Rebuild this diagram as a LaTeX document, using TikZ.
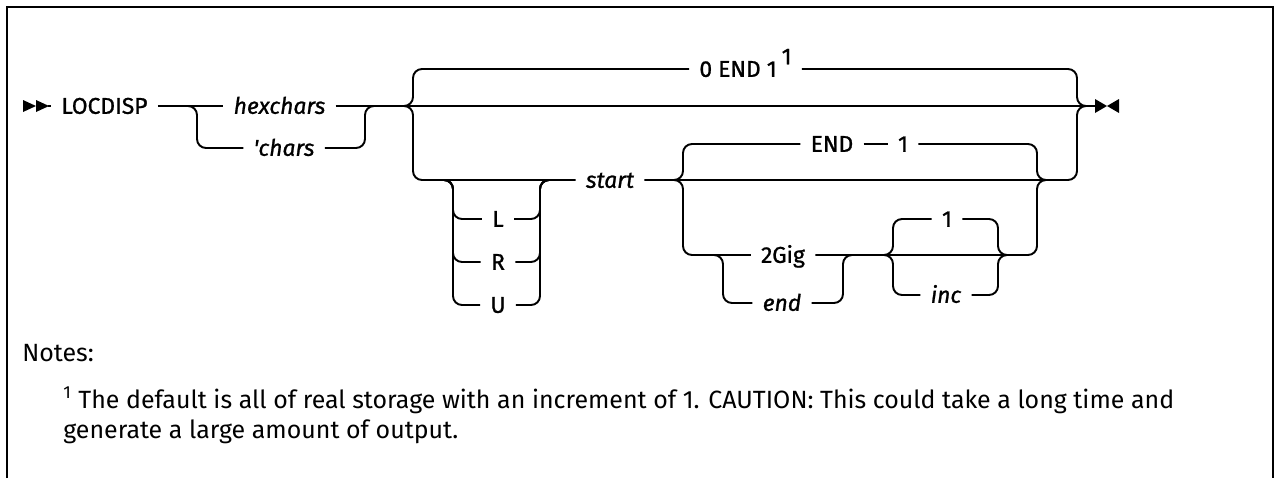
\documentclass[tikz,border=0pt]{standalone}
\usepackage{fontspec}
\setmainfont{Fira Sans}
\newfontfamily\railfont{Fira Sans}[FakeBold=1]
\usetikzlibrary{positioning}

\begin{document}
\begin{tikzpicture}[
    x=0.02cm, y=-0.02cm,
    rail/.style={line width=1.1pt, rounded corners=0.18cm},
    word/.style={inner xsep=0.2cm, inner ysep=0pt, text height=8.9pt, text depth=0pt},
    kw/.style={word, font=\railfont\fontsize{13}{15}\selectfont},
    var/.style={word, font=\railfont\fontsize{13}{15}\selectfont\itshape},
    note/.style={anchor=base west, inner sep=0pt, font=\fontsize{14.2}{17}\selectfont},
]
\useasboundingbox (0,0) rectangle (1274,478);
% frame, open at the bottom
\draw[line width=1.2pt] (7,478) -- (7,7) -- (1273,7) -- (1273,478);

% start of the statement
\fill (23,100) -- (36,106) -- (23,112) -- cycle;
\fill (36,100) -- (49,106) -- (36,112) -- cycle;
\coordinate (head) at (48,106);
\node[kw] (cmd) at (104.5,106) {LOCDISP};
\draw[rail] (head) -- (cmd);

% hexchars or 'chars
\node[var] (hex) at (279.5,106) {hexchars};
\node[var] (chr) at (284,148) {\textquotesingle chars};
\draw[rail] (cmd) -- (hex);
\draw[rail] (185,106) -- (197,106) -- (197,148) -- (chr.west);
\draw[rail] (chr.east) -- (365,148) -- (365,106) -- (377,106);

% main line and end of the statement
\coordinate (tail) at (1096,106);
\draw[rail] (hex) -- (tail);
\fill (1095,99) -- (1107,106) -- (1095,113) -- cycle;
\fill (1119,99) -- (1107,106) -- (1119,113) -- cycle;

% default above the main line
\node[kw] (dflt) at (745.5,69) {0 END 1\hspace{0.1cm}\raisebox{0.55em}{1}};
\draw[rail] (400,106) -- (413,106) -- (413,69) -- (dflt.west);
\draw[rail] (dflt.east) -- (1077,69) -- (1077,106) -- (1090,106);

% range below the main line
\node[var] (start) at (610,180) {start};
\draw[rail] (400,106) -- (413,106) -- (413,180) -- (start.west);
\foreach \k/\y in {L/219,R/262,U/305} {
  \node[kw] (opt\k) at (498,\y) {\k};
  \draw[rail] (440,180) -- (453,180) -- (453,\y) -- (opt\k.west);
  \draw[rail] (opt\k.east) -- (540,\y) -- (540,180) -- (553,180);
}
\draw[rail] (start.east) -- (1077,180) -- (1077,106) -- (1090,106);

% END 1 default after start
\node[kw] (upto) at (832,144) {END};
\node[kw] (by) at (903,144) {1};
\draw[rail] (670,180) -- (683,180) -- (683,144) -- (upto.west);
\draw[rail] (upto) -- (by);
\draw[rail] (by.east) -- (1037,144) -- (1037,180) -- (1050,180);

% 2Gig or end, then increment
\node[kw] (gig) at (783,255) {2Gig};
\node[var] (last) at (782,303) {end};
\draw[rail] (670,180) -- (683,180) -- (683,255) -- (gig.west);
\draw[rail] (710,255) -- (723,255) -- (723,303) -- (last.west);
\draw[rail] (last.east) -- (843,303) -- (843,255) -- (855,255);
\draw[rail] (gig.east) -- (1037,255) -- (1037,180) -- (1050,180);
\node[kw] (one) at (947,219) {1};
\node[var] (inc) at (946,295) {inc};
\draw[rail] (880,255) -- (893,255) -- (893,219) -- (one.west);
\draw[rail] (one.east) -- (998,219) -- (998,255) -- (1010,255);
\draw[rail] (880,255) -- (893,255) -- (893,295) -- (inc.west);
\draw[rail] (inc.east) -- (998,295) -- (998,255) -- (1010,255);

% notes
\node[note] (notes) at (22,361) {Notes:};
\node[note] (fn1) at (63,408) {\textsuperscript{1} The default is all of real storage with an increment of 1. CAUTION: This could take a long time and};
\node[note] (fn2) at (63,438) {generate a large amount of output.};
\end{tikzpicture}
\end{document}
